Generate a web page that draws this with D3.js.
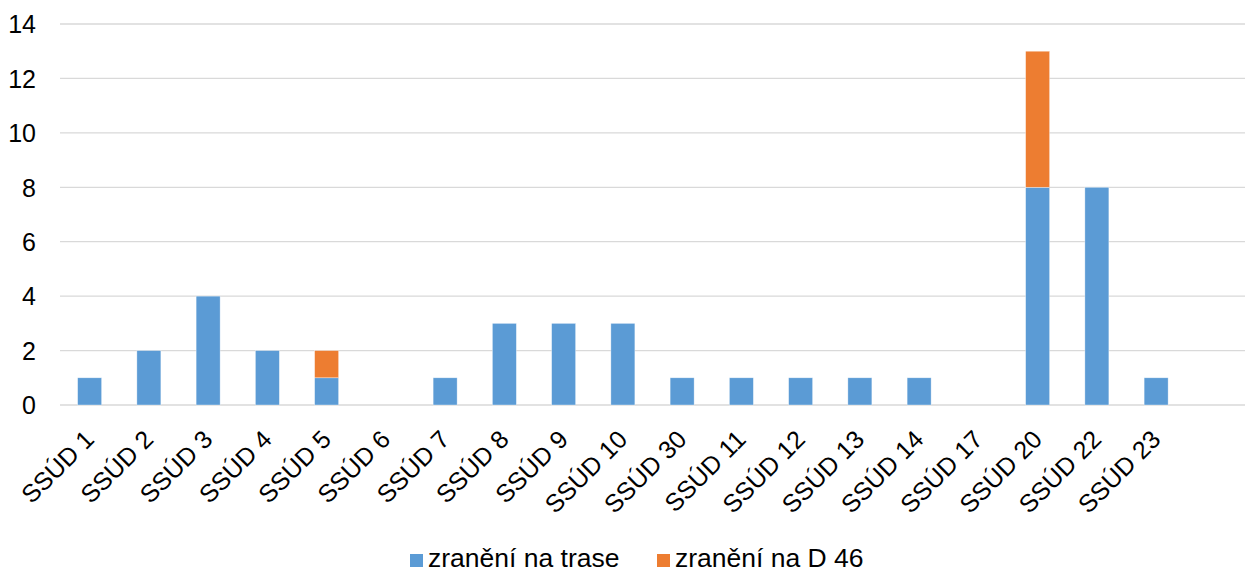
<!DOCTYPE html>
<html><head><meta charset="utf-8">
<script src="https://cdn.jsdelivr.net/npm/d3@7"></script>
<style>body{margin:0;background:#fff}svg{display:block}text{font-family:"Liberation Sans",Arial,sans-serif;fill:#000}</style>
</head><body><svg id="c" width="1250" height="576"></svg>
<script>
const categories = ["SSÚD 1","SSÚD 2","SSÚD 3","SSÚD 4","SSÚD 5","SSÚD 6","SSÚD 7","SSÚD 8","SSÚD 9","SSÚD 10","SSÚD 30","SSÚD 11","SSÚD 12","SSÚD 13","SSÚD 14","SSÚD 17","SSÚD 20","SSÚD 22","SSÚD 23",""];
const trasa = [1,2,4,2,1,0,1,3,3,3,1,1,1,1,1,0,8,8,1,0];
const d46   = [0,0,0,0,1,0,0,0,0,0,0,0,0,0,0,0,5,0,0,0];
const yTicks = [0,2,4,6,8,10,12,14];
const seriesNames = ["zranění na trase","zranění na D 46"];
const colors = ["#5b9bd5","#ed7d31"];

const svg = d3.select("#c");
const x = d3.scaleBand().domain(d3.range(categories.length)).range([60,1245]).paddingInner(0.595).paddingOuter(0.2975);
const y = d3.scaleLinear().domain([0,14]).range([405,24]);

svg.append("g").selectAll("line").data(yTicks).join("line")
  .attr("x1",60).attr("x2",1245).attr("y1",d=>y(d)).attr("y2",d=>y(d))
  .attr("stroke","#d9d9d9").attr("stroke-width",1.3);

const yAxis = d3.axisLeft(y).tickValues(yTicks).tickSize(0).tickPadding(0);
const gy = svg.append("g").attr("transform","translate(36,0)").call(yAxis);
gy.select(".domain").remove();
gy.selectAll("text").attr("font-size",25).attr("font-family","Liberation Sans, Arial, sans-serif").attr("fill","#000").attr("dy","0.35em");

const rows = categories.map((c,i)=>({i, trasa:trasa[i], d46:d46[i]}));
const stack = d3.stack().keys(["trasa","d46"])(rows);
svg.append("g").selectAll("g").data(stack).join("g").attr("fill",(d,k)=>colors[k])
  .selectAll("rect").data(d=>d).join("rect")
  .attr("x",d=>x(d.data.i)).attr("width",x.bandwidth())
  .attr("y",d=>y(d[1])).attr("height",d=>y(d[0])-y(d[1]))
  .attr("stroke","#ffffff").attr("stroke-width",0.6).attr("stroke-opacity",0.6);

const xAxis = d3.axisBottom(x).tickFormat("").tickSize(0).tickPadding(0);
const gx = svg.append("g").attr("transform","translate(0,405)").call(xAxis);
gx.select(".domain").remove();
gx.selectAll(".tick text").remove();
gx.selectAll(".tick").append("g")
  .attr("transform","translate(6,36)")
  .append("g").attr("transform","rotate(-45)")
  .append("text")
  .attr("font-size",25).attr("font-family","Liberation Sans, Arial, sans-serif").attr("fill","#000")
  .attr("text-anchor","end").attr("x",0).attr("y",0)
  .text(i=>categories[i]);

const leg = svg.append("g");
const lx = [410,657];
seriesNames.forEach((n,k)=>{
  leg.append("rect").attr("x",lx[k]).attr("y",554).attr("width",13).attr("height",13).attr("fill",colors[k]);
  leg.append("text").attr("x",lx[k]+18).attr("y",567).attr("font-size",26.5).text(n);
});
</script></body></html>
